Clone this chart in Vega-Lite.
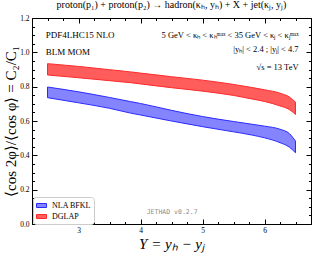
{
  "$schema": "https://vega.github.io/schema/vega-lite/v6.json",
  "width": 279,
  "height": 206,
  "autosize": {"type": "none"},
  "padding": {"left": 32, "top": 18, "right": 5, "bottom": 32},
  "background": "white",
  "config": {
    "view": {"stroke": "black", "strokeWidth": 1},
    "font": "Liberation Serif",
    "title": {"fontWeight": "normal"}
  },
  "title": {
    "text": "proton(p₁) + proton(p₂) → hadron(κₕ, yₕ) + X + jet(κⱼ, yⱼ)",
    "font": "Liberation Serif",
    "fontSize": 10,
    "fontWeight": "normal",
    "anchor": "middle",
    "baseline": "alphabetic",
    "offset": 6,
    "dy": 10,
    "color": "black"
  },
  "datasets": {
    "bands": [
      {"Y": 2.5, "series": "NLA BFKL", "lo": 0.736, "hi": 0.798},
      {"Y": 3.0, "series": "NLA BFKL", "lo": 0.706, "hi": 0.770},
      {"Y": 3.5, "series": "NLA BFKL", "lo": 0.674, "hi": 0.737},
      {"Y": 3.84, "series": "NLA BFKL", "lo": 0.646, "hi": 0.713},
      {"Y": 4.0, "series": "NLA BFKL", "lo": 0.635, "hi": 0.702},
      {"Y": 4.5, "series": "NLA BFKL", "lo": 0.600, "hi": 0.662},
      {"Y": 5.0, "series": "NLA BFKL", "lo": 0.567, "hi": 0.626},
      {"Y": 5.5, "series": "NLA BFKL", "lo": 0.537, "hi": 0.597},
      {"Y": 5.8, "series": "NLA BFKL", "lo": 0.518, "hi": 0.581},
      {"Y": 6.0, "series": "NLA BFKL", "lo": 0.502, "hi": 0.570},
      {"Y": 6.25, "series": "NLA BFKL", "lo": 0.474, "hi": 0.552},
      {"Y": 6.4, "series": "NLA BFKL", "lo": 0.448, "hi": 0.527},
      {"Y": 6.5, "series": "NLA BFKL", "lo": 0.415, "hi": 0.483},
      {"Y": 2.5, "series": "DGLAP", "lo": 0.868, "hi": 0.934},
      {"Y": 3.0, "series": "DGLAP", "lo": 0.852, "hi": 0.918},
      {"Y": 3.5, "series": "DGLAP", "lo": 0.835, "hi": 0.899},
      {"Y": 3.84, "series": "DGLAP", "lo": 0.823, "hi": 0.886},
      {"Y": 4.0, "series": "DGLAP", "lo": 0.816, "hi": 0.879},
      {"Y": 4.5, "series": "DGLAP", "lo": 0.794, "hi": 0.858},
      {"Y": 5.0, "series": "DGLAP", "lo": 0.774, "hi": 0.838},
      {"Y": 5.5, "series": "DGLAP", "lo": 0.749, "hi": 0.813},
      {"Y": 5.8, "series": "DGLAP", "lo": 0.728, "hi": 0.795},
      {"Y": 6.0, "series": "DGLAP", "lo": 0.714, "hi": 0.782},
      {"Y": 6.25, "series": "DGLAP", "lo": 0.688, "hi": 0.762},
      {"Y": 6.4, "series": "DGLAP", "lo": 0.667, "hi": 0.740},
      {"Y": 6.5, "series": "DGLAP", "lo": 0.638, "hi": 0.710}
    ],
    "notesLeft": [
      {"Y": 2.47, "v": 1.099, "label": "PDF4LHC15 NLO"},
      {"Y": 2.47, "v": 1.002, "label": "BLM MOM"}
    ],
    "notesRight": [
      {"Y": 6.55, "v": 1.099, "label": "5 GeV < κₕ < κₕᵐᵃˣ < 35 GeV < κⱼ < κⱼᵐᵃˣ"},
      {"Y": 6.55, "v": 1.017, "label": "|yₕ| < 2.4 ;  |yⱼ| < 4.7"},
      {"Y": 6.55, "v": 0.913, "label": "√s = 13 TeV"}
    ],
    "stamp": [
      {"Y": 4.51, "v": 0.067, "label": "JETHAD v0.2.7"}
    ]
  },
  "resolve": {"axis": {"x": "independent", "y": "independent"}},
  "layer": [
    {
      "data": {"name": "bands"},
      "mark": {"type": "area", "interpolate": "monotone", "strokeWidth": 1, "fillOpacity": 1},
      "encoding": {
        "x": {
          "field": "Y", "type": "quantitative",
          "scale": {"domain": [2.25, 6.75], "nice": false, "zero": false},
          "axis": {
            "orient": "bottom",
            "title": "Y = yₕ − yⱼ",
            "titleFont": "Liberation Serif",
            "titleFontStyle": "italic",
            "titleFontWeight": "normal",
            "titleFontSize": 15,
            "titlePadding": 3,
            "values": [2.25, 2.5, 2.75, 3, 3.25, 3.5, 3.75, 4, 4.25, 4.5, 4.75, 5, 5.25, 5.5, 5.75, 6, 6.25, 6.5, 6.75],
            "labelExpr": "abs(datum.value - round(datum.value)) < 0.001 ? format(datum.value, '.0f') : ''",
            "labelFont": "Liberation Serif",
            "labelFontSize": 7.5,
            "labelColor": "black",
            "labelPadding": 7,
            "tickColor": "black",
            "tickSize": {"condition": {"test": "abs(datum.value - round(datum.value)) < 0.001", "value": -5}, "value": -2.5},
            "domain": false,
            "grid": false
          }
        },
        "y": {
          "field": "hi", "type": "quantitative",
          "scale": {"domain": [0, 1.2], "nice": false, "zero": false},
          "axis": {
            "orient": "left",
            "title": "⟨cos 2φ⟩/⟨cos φ⟩ = C₂/C₁",
            "titleFont": "Liberation Serif",
            "titleFontWeight": "normal",
            "titleFontSize": 15,
            "titlePadding": 1,
            "values": [0, 0.05, 0.1, 0.15, 0.2, 0.25, 0.3, 0.35, 0.4, 0.45, 0.5, 0.55, 0.6, 0.65, 0.7, 0.75, 0.8, 0.85, 0.9, 0.95, 1.0, 1.05, 1.1, 1.15, 1.2],
            "labelExpr": "abs(datum.value * 5 - round(datum.value * 5)) < 0.001 ? format(datum.value, '.1f') : ''",
            "labelFont": "Liberation Serif",
            "labelFontSize": 7.5,
            "labelColor": "black",
            "labelPadding": 8,
            "tickColor": "black",
            "tickSize": {"condition": {"test": "abs(datum.value * 5 - round(datum.value * 5)) < 0.001", "value": -5}, "value": -2.5},
            "domain": false,
            "grid": false
          }
        },
        "y2": {"field": "lo"},
        "fill": {
          "field": "series", "type": "nominal",
          "scale": {"domain": ["NLA BFKL", "DGLAP"], "range": ["#8484ff", "#ff5c5c"]},
          "legend": {
            "orient": "none",
            "legendX": 1,
            "legendY": 179,
            "title": null,
            "padding": 3,
            "strokeColor": "#cccccc",
            "fillColor": "white",
            "cornerRadius": 3,
            "labelFont": "Liberation Serif",
            "labelFontSize": 8,
            "labelColor": "black",
            "labelOffset": 5,
            "rowPadding": 1,
            "symbolType": "M-1,-0.4H1V0.4H-1Z",
            "symbolSize": 100,
            "symbolStrokeWidth": 1
          }
        },
        "stroke": {
          "field": "series", "type": "nominal",
          "scale": {"domain": ["NLA BFKL", "DGLAP"], "range": ["#2a2aff", "#ff2a2a"]},
          "legend": null
        }
      }
    },
    {
      "data": {"name": "notesLeft"},
      "mark": {"type": "text", "align": "left", "baseline": "middle", "font": "Liberation Serif", "fontSize": 9, "color": "black"},
      "encoding": {
        "x": {
          "field": "Y", "type": "quantitative",
          "scale": {"domain": [2.25, 6.75], "nice": false, "zero": false},
          "axis": {
            "orient": "top", "title": null, "labels": false, "domain": false, "grid": false,
            "values": [2.25, 2.5, 2.75, 3, 3.25, 3.5, 3.75, 4, 4.25, 4.5, 4.75, 5, 5.25, 5.5, 5.75, 6, 6.25, 6.5, 6.75],
            "tickColor": "black",
            "tickSize": {"condition": {"test": "abs(datum.value - round(datum.value)) < 0.001", "value": -5}, "value": -2.5}
          }
        },
        "y": {
          "field": "v", "type": "quantitative",
          "scale": {"domain": [0, 1.2], "nice": false, "zero": false},
          "axis": {
            "orient": "right", "title": null, "labels": false, "domain": false, "grid": false,
            "values": [0, 0.05, 0.1, 0.15, 0.2, 0.25, 0.3, 0.35, 0.4, 0.45, 0.5, 0.55, 0.6, 0.65, 0.7, 0.75, 0.8, 0.85, 0.9, 0.95, 1.0, 1.05, 1.1, 1.15, 1.2],
            "tickColor": "black",
            "tickSize": {"condition": {"test": "abs(datum.value * 5 - round(datum.value * 5)) < 0.001", "value": -5}, "value": -2.5}
          }
        },
        "text": {"field": "label"}
      }
    },
    {
      "data": {"name": "notesRight"},
      "mark": {"type": "text", "align": "right", "baseline": "middle", "font": "Liberation Serif", "fontSize": 8.5, "color": "black"},
      "encoding": {
        "x": {"field": "Y", "type": "quantitative", "axis": null},
        "y": {"field": "v", "type": "quantitative", "axis": null},
        "text": {"field": "label"}
      }
    },
    {
      "data": {"name": "stamp"},
      "mark": {"type": "text", "align": "center", "baseline": "middle", "font": "DejaVu Sans Mono", "fontSize": 6.5, "color": "#8c8c8c"},
      "encoding": {
        "x": {"field": "Y", "type": "quantitative", "axis": null},
        "y": {"field": "v", "type": "quantitative", "axis": null},
        "text": {"field": "label"}
      }
    }
  ]
}
